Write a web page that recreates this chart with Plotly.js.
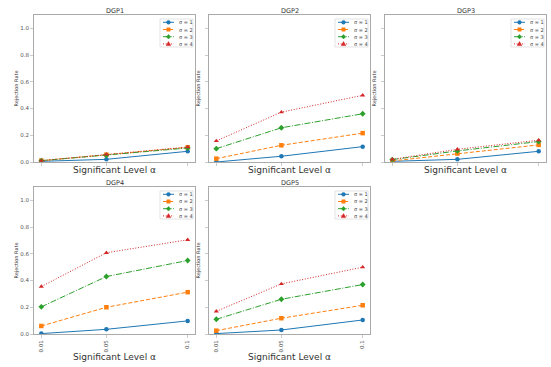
<!DOCTYPE html>
<html>
<head>
<meta charset="utf-8">
<script src="https://cdn.plot.ly/plotly-3.0.1.min.js"></script>
<style>html,body{margin:0;padding:0;background:#fff;}#chart{width:551px;height:367px;}</style>
</head>
<body>
<div id="chart"></div>
<script>
const alphas = [0.01, 0.05, 0.1];
const xTickLabels = ["0.01", "0.05", "0.1"];
const yTickVals = [0, 0.2, 0.4, 0.6, 0.8, 1.0];
const yTickLabels = ["0.0", "0.2", "0.4", "0.6", "0.8", "1.0"];
const panelTitles = ["DGP1", "DGP2", "DGP3", "DGP4", "DGP5"];
const seriesNames = ["σ = 1", "σ = 2", "σ = 3", "σ = 4"];

const dgp1 = [[0.005, 0.02, 0.08], [0.01, 0.055, 0.11], [0.01, 0.05, 0.105], [0.01, 0.057, 0.112]];
const dgp2 = [[0.0, 0.043, 0.115], [0.025, 0.125, 0.216], [0.10, 0.256, 0.361], [0.158, 0.373, 0.499]];
const dgp3 = [[0.005, 0.02, 0.08], [0.008, 0.063, 0.128], [0.018, 0.083, 0.153], [0.02, 0.095, 0.163]];
const dgp4 = [[0.003, 0.035, 0.098], [0.06, 0.20, 0.313], [0.203, 0.43, 0.55], [0.355, 0.608, 0.705]];
const dgp5 = [[0.003, 0.03, 0.105], [0.025, 0.118, 0.215], [0.11, 0.26, 0.37], [0.17, 0.375, 0.50]];
const allData = [dgp1, dgp2, dgp3, dgp4, dgp5];

const colors = ["#1f77b4", "#ff7f0e", "#2ca02c", "#d62728"];
const symbols = ["circle", "square", "diamond", "triangle-up"];
const dashes = ["solid", "4px,2px", "6px,1.6px,1px,1.6px", "1px,1.7px"];

const W = 551, H = 367;
const xDom = [[34, 195], [209, 370], [385, 546]];
const yDomTop = [15, 162], yDomBot = [187, 334];
const pos = [[0, yDomTop], [1, yDomTop], [2, yDomTop], [0, yDomBot], [1, yDomBot]];

const px = v => v / W;
const py = v => 1 - v / H;

const traces = [];
const shapes = [];
const annotations = [];
const layout = {
  width: W, height: H,
  margin: {l: 0, r: 0, t: 0, b: 0},
  paper_bgcolor: "#fff", plot_bgcolor: "#fff",
  font: {family: "DejaVu Sans", color: "#333"},
  showlegend: false,
  shapes: shapes,
  annotations: annotations
};

function legendMarker(s, cx, cy, r) {
  const c = colors[s];
  const base = {xref: "paper", yref: "paper", fillcolor: c, line: {color: c, width: 0.5}, layer: "above"};
  if (symbols[s] === "circle") {
    return Object.assign({type: "circle", x0: px(cx - r), x1: px(cx + r), y0: py(cy + r), y1: py(cy - r)}, base);
  }
  if (symbols[s] === "square") {
    const q = r * 0.9;
    return Object.assign({type: "rect", x0: px(cx - q), x1: px(cx + q), y0: py(cy + q), y1: py(cy - q)}, base);
  }
  if (symbols[s] === "diamond") {
    const d = r * 1.2;
    return Object.assign({type: "path", path: `M${px(cx)},${py(cy - d)} L${px(cx + d)},${py(cy)} L${px(cx)},${py(cy + d)} L${px(cx - d)},${py(cy)} Z`}, base);
  }
  const t = r * 1.2;
  return Object.assign({type: "path", path: `M${px(cx)},${py(cy - t)} L${px(cx + t)},${py(cy + t * 0.75)} L${px(cx - t)},${py(cy + t * 0.75)} Z`}, base);
}

allData.forEach((dgp, p) => {
  const idx = p + 1;
  const xa = idx === 1 ? "x" : "x" + idx;
  const ya = idx === 1 ? "y" : "y" + idx;
  dgp.forEach((vals, s) => {
    traces.push({
      x: alphas, y: vals, xaxis: xa, yaxis: ya,
      name: seriesNames[s], type: "scatter", mode: "lines+markers",
      line: {color: colors[s], width: 1, dash: dashes[s]},
      marker: {color: colors[s], symbol: symbols[s], size: 4.5}
    });
  });
  const [col, yd] = pos[p];
  const xd = xDom[col];
  const bottomRow = p >= 3;
  const firstCol = col === 0;
  layout["xaxis" + (idx === 1 ? "" : idx)] = {
    domain: [px(xd[0]), px(xd[1])], anchor: ya,
    range: [0.0055, 0.1045], tickvals: alphas, ticktext: xTickLabels,
    showticklabels: bottomRow, tickangle: -90, tickfont: {size: 5.5, color: "#555"},
    ticks: "outside", ticklen: 3, tickcolor: "#aaa", tickwidth: 0.6,
    showline: true, linecolor: "#aaa", linewidth: 1, mirror: true,
    showgrid: false, zeroline: false,
    title: {text: "Significant Level α", font: {size: 9, color: "#333"}, standoff: bottomRow ? 1 : 1}
  };
  layout["yaxis" + (idx === 1 ? "" : idx)] = {
    domain: [py(yd[1]), py(yd[0])], anchor: xa,
    range: [0, 1.1], tickvals: yTickVals, ticktext: yTickLabels,
    showticklabels: firstCol, tickfont: {size: 5.5, color: "#555"},
    ticks: "outside", ticklen: 3, tickcolor: "#aaa", tickwidth: 0.6,
    showline: true, linecolor: "#aaa", linewidth: 1, mirror: true,
    showgrid: false, zeroline: false,
    title: {text: "Rejection Rate", font: {size: 5, color: "#333"}, standoff: firstCol ? 0 : 4}
  };
  annotations.push({
    text: panelTitles[p], xref: "paper", yref: "paper",
    x: px((xd[0] + xd[1]) / 2), y: py(yd[0] - 4.5), xanchor: "center", yanchor: "middle",
    showarrow: false, font: {size: 6.5, color: "#333"}
  });

  // legend box (upper right)
  const xr = xd[1], yt = yd[0];
  shapes.push({
    type: "rect", xref: "paper", yref: "paper",
    x0: px(xr - 35), x1: px(xr - 2), y0: py(yt + 32), y1: py(yt + 4),
    fillcolor: "rgba(255,255,255,0.85)", line: {color: "#d0d0d0", width: 0.6}, layer: "above"
  });
  seriesNames.forEach((name, s) => {
    const ey = yt + 7.3 + 7.2 * s;
    shapes.push({
      type: "line", xref: "paper", yref: "paper",
      x0: px(xr - 32), x1: px(xr - 21), y0: py(ey), y1: py(ey),
      line: {color: colors[s], width: 1, dash: dashes[s]}, layer: "above"
    });
    shapes.push(legendMarker(s, xr - 26.5, ey, 1.9));
    annotations.push({
      text: name, xref: "paper", yref: "paper",
      x: px(xr - 18), y: py(ey), xanchor: "left", yanchor: "middle",
      showarrow: false, font: {size: 5, color: "#444"}
    });
  });
});

Plotly.newPlot("chart", traces, layout, {displayModeBar: false, staticPlot: true});
</script>
</body>
</html>
